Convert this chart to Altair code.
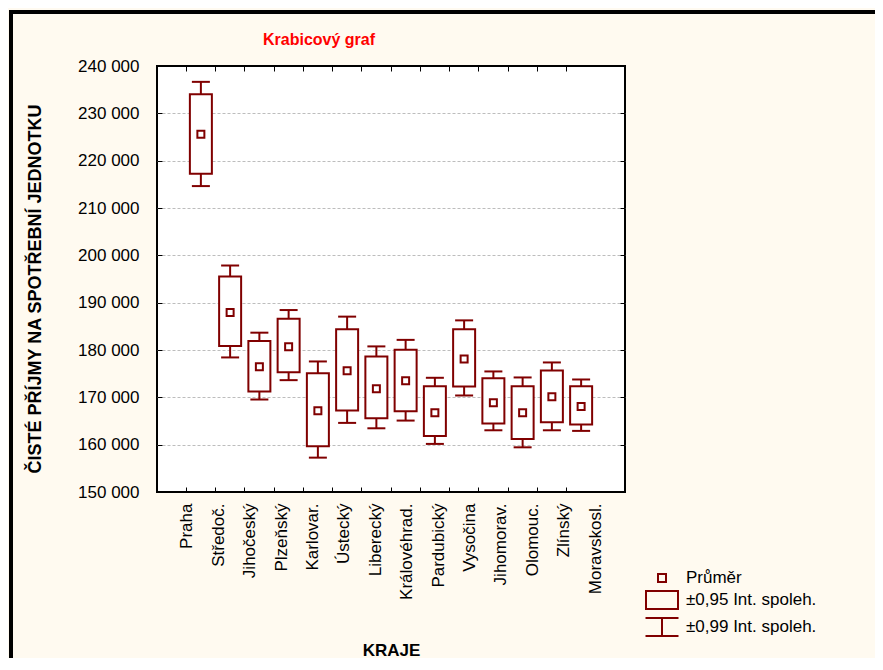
import altair as alt
import pandas as pd

# ---- data ----
kraje = ["Praha", "Středoč.", "Jihočeský", "Plzeňský", "Karlovar.", "Ústecký",
         "Liberecký", "Královéhrad.", "Pardubický", "Vysočina", "Jihomorav.",
         "Olomouc.", "Zlínský", "Moravskosl."]
prumer = [225580, 187900, 176460, 180690, 167150, 175620, 171800,
          173500, 166720, 178080, 168840, 166720, 170110, 168060]
ci95_dolni = [217240, 180830, 171230, 175320, 159650, 167210, 165580,
              167060, 161850, 172290, 164460, 161210, 164740, 164250]
ci95_horni = [234050, 195520, 181880, 186620, 175110, 184360, 178640,
              180060, 172360, 184360, 174050, 172360, 175680, 172360]
ci99_dolni = [214630, 178430, 169540, 173630, 157260, 164600, 163460,
              165090, 160160, 170390, 163040, 159440, 163040, 162910]
ci99_horni = [236650, 197850, 183660, 188440, 177580, 187050, 180760,
              182140, 174130, 186260, 175470, 174200, 177370, 173770]
y_ticks = [150000, 160000, 170000, 180000, 190000, 200000,
           210000, 220000, 230000, 240000]
legend_labels = ["Průměr", "±0,95 Int. spoleh.", "±0,99 Int. spoleh."]

DARK = "#800000"
FONT = "Liberation Sans"

df = pd.DataFrame({
    "kraj": kraje, "prumer": prumer,
    "lo95": ci95_dolni, "hi95": ci95_horni,
    "lo99": ci99_dolni, "hi99": ci99_horni,
    "legenda": legend_labels[0],
})

band_scale = alt.Scale(type="band", paddingInner=0, paddingOuter=1)
y_scale = alt.Scale(domain=[150000, 240000], nice=False, zero=False)

x_axis = alt.Axis(orient="bottom", bandPosition=0, labels=False, title=None,
                  domain=False, grid=False, tickSize=5, offset=-5,
                  tickColor="black", tickWidth=1)
y_axis = alt.Axis(
    orient="left", values=y_ticks, offset=-5, tickSize=5, tickColor="black",
    domain=False, labelPadding=18, labelFont=FONT, labelFontSize=17,
    labelColor="black",
    labelExpr="replace(format(datum.value, ','), ',', ' ')",
    grid=True, gridDash=[3, 2], gridColor="#bdbdbd",
    gridOpacity={"condition": {"test": "datum.value == 150000 || datum.value == 240000",
                               "value": 0}, "value": 1},
    title="ČISTÉ PŘÍJMY NA SPOTŘEBNÍ JEDNOTKU", titleFont=FONT,
    titleFontSize=18, titleFontWeight="bold", titleColor="black",
    titleX=-127, titleY=222.5, titleAngle=270, titleBaseline="middle",
    titleAlign="center",
)

X = alt.X("kraj:N", sort=kraje, scale=band_scale, axis=x_axis)

def Y(field):
    return alt.Y(f"{field}:Q", scale=y_scale, axis=y_axis)

base = alt.Chart(df)
whisker = base.mark_rule(color=DARK, strokeWidth=2).encode(
    x=X, y=Y("lo99"), y2="hi99:Q")
box = base.mark_bar(fill="white", stroke=DARK, strokeWidth=2, size=22).encode(
    x=X, y=Y("lo95"), y2="hi95:Q")
cap_lo = base.mark_tick(color=DARK, thickness=2, size=18, opacity=1).encode(
    x=X, y=Y("lo99"))
cap_hi = base.mark_tick(color=DARK, thickness=2, size=18, opacity=1).encode(
    x=X, y=Y("hi99"))

sq_path = "M-0.4,-0.4H0.4V0.4H-0.4Z"
box_path = "M-1.6,-0.9H1.6V0.9H-1.6Z"
wh_path = "M-1.65,-0.9H1.65M0,-0.9V0.9M-1.65,0.9H1.65"

mean = base.mark_point(filled=False, color=DARK, strokeWidth=2,
                       size=306, opacity=1).encode(
    x=X, y=Y("prumer"),
    shape=alt.Shape("legenda:N",
                    scale=alt.Scale(domain=legend_labels,
                                    range=[sq_path, box_path, wh_path]),
                    legend=alt.Legend(title=None, orient="none", legendX=494,
                                      legendY=501, symbolSize=400,
                                      symbolStrokeWidth=2,
                                      symbolStrokeColor=DARK,
                                      labelFont=FONT, labelFontSize=17,
                                      labelColor="black", labelOffset=13,
                                      rowPadding=1, padding=0)))

main = alt.layer(whisker, box, cap_lo, cap_hi, mean)

labels_layer = alt.Chart(pd.DataFrame({"kraj": kraje})).mark_point(opacity=0).encode(
    x=alt.X("kraj:N", sort=kraje, scale=alt.Scale(type="point", padding=0.95),
            axis=alt.Axis(orient="bottom", labelAngle=270, labelAlign="right",
                          labelBaseline="middle", labelPadding=11, ticks=False,
                          tickSize=0, domain=False, grid=False,
                          labelOverlap=False, labelFont=FONT, labelFontSize=17,
                          labelColor="black", title="KRAJE", titleFont=FONT,
                          titleFontSize=17, titleFontWeight="bold",
                          titleColor="black", titleX=234, titleY=163,
                          titleBaseline="alphabetic", titleAlign="center")))

mirror = base.mark_point(opacity=0).encode(
    x=alt.X("kraj:N", sort=kraje, scale=band_scale,
            axis=alt.Axis(orient="top", bandPosition=0, labels=False, title=None,
                          domain=False, grid=False, tickSize=5, offset=-5,
                          tickColor="black")),
    y=alt.Y("prumer:Q", scale=y_scale,
            axis=alt.Axis(orient="right", values=y_ticks, labels=False,
                          title=None, domain=False, grid=False, tickSize=5,
                          offset=-5, tickColor="black")))

frame_df = pd.DataFrame({"r": [0]})
border_left = alt.Chart(frame_df).mark_rule(color="black", strokeWidth=4).encode(
    x=alt.value(-146), y=alt.value(-56), y2=alt.value(600))
border_top = alt.Chart(frame_df).mark_rule(color="black", strokeWidth=4).encode(
    x=alt.value(-148), x2=alt.value(720), y=alt.value(-54))

chart = alt.layer(main, labels_layer, mirror, border_left, border_top).resolve_scale(
    x="independent", y="independent"
).properties(
    width=468, height=426,
    title=alt.TitleParams("Krabicový graf", anchor="start", frame="group",
                          dx=106, dy=71, fontSize=16, fontWeight="bold",
                          color="red", font=FONT, baseline="alphabetic",
                          offset=18),
    background="#fffaf0",
    padding={"left": 149, "top": 58, "right": 250, "bottom": 166},
    autosize=alt.AutoSizeParams(type="none"),
).configure_view(stroke="black", strokeWidth=2, fill="white")

chart.save("out.html", embed_options={"renderer": "svg", "actions": False})
